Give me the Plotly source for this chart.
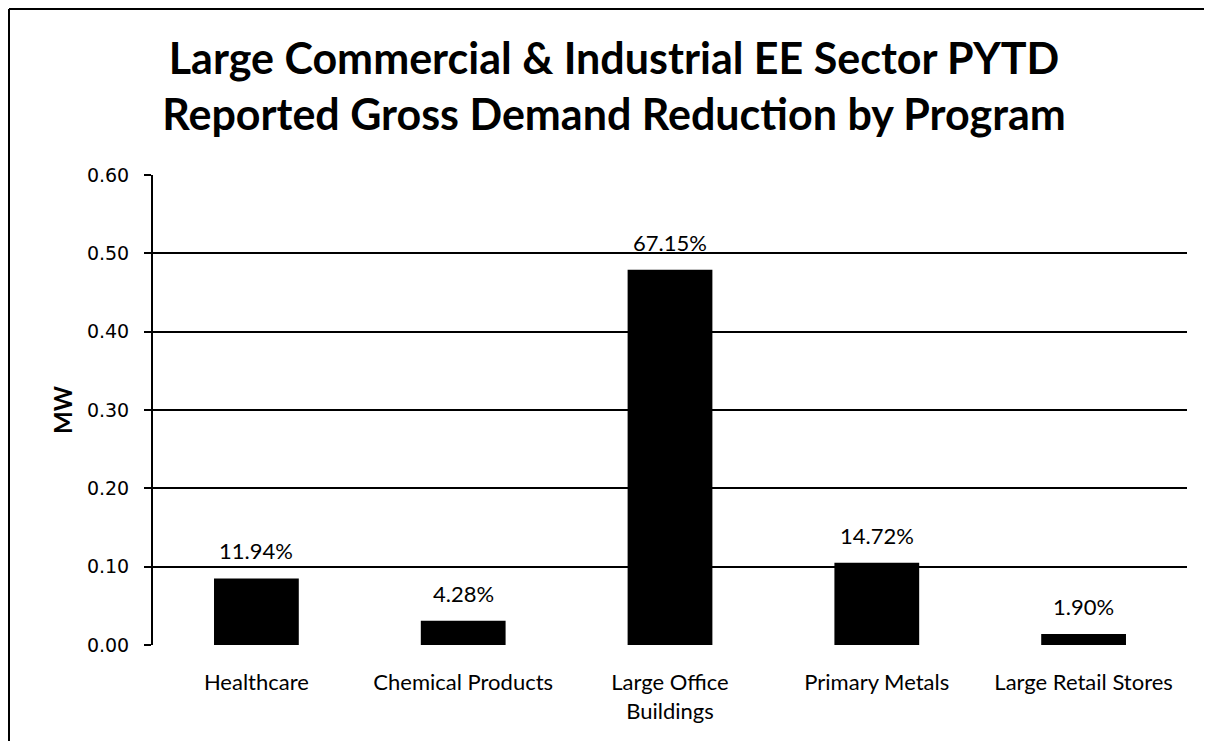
import plotly.graph_objects as go

# -------------------------------------------------------
# Data
# -------------------------------------------------------
programs = ["Healthcare", "Chemical Products", "Large Office<br>Buildings",
            "Primary Metals", "Large Retail Stores"]
demand_mw = [0.085, 0.031, 0.479, 0.105, 0.014]
share_labels = ["11.94%", "4.28%", "67.15%", "14.72%", "1.90%"]

y_ticks = [0.0, 0.1, 0.2, 0.3, 0.4, 0.5, 0.6]
y_tick_text = ["0.00", "0.10", "0.20", "0.30", "0.40", "0.50", "0.60"]

FONT = "Lato, Carlito, Calibri, sans-serif"

# plot area box in figure pixels (page body adds an 8px offset)
L, R, T, B = 145, 33, 167, 104
W, H = 1212, 741
plot_w = W - L - R
plot_h = H - T - B

fig = go.Figure()

fig.add_trace(
    go.Bar(
        x=programs,
        y=demand_mw,
        marker=dict(color="black", line=dict(width=0)),
        width=0.41,
        showlegend=False,
    )
)

# percent-of-total labels above each bar
for prog, val, lbl in zip(programs, demand_mw, share_labels):
    fig.add_annotation(
        x=prog, y=val, text=lbl, showarrow=False,
        yanchor="bottom", yshift=12,
        font=dict(family=FONT, size=22, color="black"),
    )

# y axis title
fig.add_annotation(
    xref="paper", yref="paper",
    x=(54 - L) / plot_w, y=0.5,
    text="<b>MW</b>", textangle=-90, showarrow=False,
    xanchor="center", yanchor="middle",
    font=dict(family=FONT, size=24, color="black"),
)

# frame of the chart area (only left + top visible in the scan)
x_left = (1 - L) / plot_w
y_top = 1 + (T - 1) / plot_h
fig.add_shape(type="line", xref="paper", yref="paper",
              x0=x_left, x1=x_left, y0=y_top, y1=-0.3,
              line=dict(color="black", width=2))
fig.add_shape(type="line", xref="paper", yref="paper",
              x0=x_left, x1=1.05, y0=y_top, y1=y_top,
              line=dict(color="black", width=2))

fig.update_layout(
    width=W,
    height=H,
    margin=dict(l=L, r=R, t=T, b=B, autoexpand=False),
    paper_bgcolor="white",
    plot_bgcolor="white",
    title=dict(
        text="Large Commercial & Industrial EE Sector PYTD<br>"
             "Reported Gross Demand Reduction by Program",
        x=0.5, xanchor="center", xref="container",
        y=1 - 66 / H, yanchor="middle", yref="container",
        font=dict(family=FONT, size=43, color="black", weight="bold"),
    ),
    font=dict(family=FONT, color="black"),
)

fig.update_yaxes(
    range=[0, 0.6],
    tickvals=y_ticks,
    ticktext=y_tick_text,
    tickfont=dict(family="DejaVu Sans, sans-serif", size=19, color="black"),
    showgrid=True,
    gridcolor="black",
    gridwidth=2,
    showline=True,
    linecolor="black",
    linewidth=2,
    ticks="outside",
    ticklen=7,
    tickcolor="black",
    tickwidth=2,
    ticklabelstandoff=11,
    zeroline=False,
    automargin=False,
)

fig.update_xaxes(
    tickfont=dict(family=FONT, size=22, color="black"),
    showline=False,
    ticks="",
    ticklabelstandoff=22,
    automargin=False,
)

fig.write_html("out.html")
